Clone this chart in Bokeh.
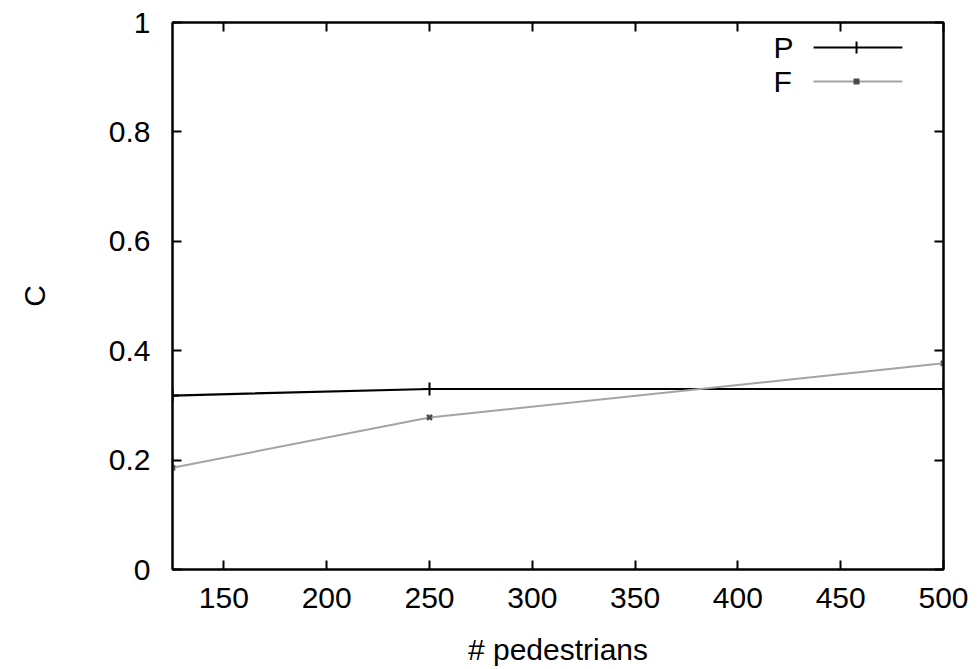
from bokeh.plotting import figure
from bokeh.models import (Range1d, LinearAxis, FixedTicker, Label, BoxAnnotation,
                          CustomLabelingPolicy)
from bokeh.embed import file_html
from bokeh.resources import INLINE

# data
pedestrians = [125, 250, 500]
p_values = [0.318, 0.330, 0.330]
f_values = [0.186, 0.278, 0.377]
x_ticks = [150, 200, 250, 300, 350, 400, 450, 500]
y_ticks = [0, 0.2, 0.4, 0.6, 0.8, 1]
y_tick_labels = {0: "0", 0.2: "0.2", 0.4: "0.4", 0.6: "0.6", 0.8: "0.8", 1: "1"}
series_names = ["P", "F"]
series_colors = ["black", "#a4a4a4"]
marker_colors = ["black", "#4a4a4a"]

FONT = "Liberation Sans"

p = figure(width=977, height=669, output_backend="svg", toolbar_location=None,
           x_range=Range1d(125, 500), y_range=Range1d(0, 1),
           min_border_left=172, min_border_right=34, min_border_top=22, min_border_bottom=100)

p.xgrid.visible = False
p.ygrid.visible = False
p.outline_line_color = "black"
p.outline_line_width = 2
p.background_fill_color = "white"
p.border_fill_color = "white"

hide_all = CustomLabelingPolicy(code="""
    const all = [...indices]
    for (const i of all) indices.unset(i)
    return indices
""")

def style_axis(ax, labels=True):
    ax.axis_line_color = "black"
    ax.axis_line_width = 2
    ax.major_tick_in = 9
    ax.major_tick_out = 0
    ax.major_tick_line_width = 2
    ax.major_tick_line_color = "black"
    ax.minor_tick_line_color = None
    ax.major_label_text_font = FONT
    ax.major_label_text_color = "black"
    if labels:
        ax.major_label_text_font_size = "30px"
    else:
        ax.major_label_text_font_size = "8px"
        ax.major_label_standoff = 0
        ax.major_label_policy = hide_all

xa = p.xaxis[0]
ya = p.yaxis[0]
xa.ticker = FixedTicker(ticks=x_ticks)
ya.ticker = FixedTicker(ticks=y_ticks)
ya.major_label_overrides = y_tick_labels
style_axis(xa)
style_axis(ya)
xa.major_label_standoff = 18
ya.major_label_standoff = 22
xa.axis_label = "# pedestrians"
ya.axis_label = "C"
for ax in (xa, ya):
    ax.axis_label_text_font = FONT
    ax.axis_label_text_font_size = "30px"
    ax.axis_label_text_font_style = "normal"
    ax.axis_label_text_color = "black"
xa.axis_label_standoff = 22
ya.axis_label_standoff = 55

top_ax = LinearAxis(ticker=FixedTicker(ticks=x_ticks))
right_ax = LinearAxis(ticker=FixedTicker(ticks=y_ticks))
style_axis(top_ax, labels=False)
style_axis(right_ax, labels=False)
p.add_layout(top_ax, "above")
p.add_layout(right_ax, "right")

# series
p.line(pedestrians, p_values, line_color=series_colors[0], line_width=2.2)
p.scatter(pedestrians, p_values, marker="cross", size=13, line_color=marker_colors[0], line_width=2)
p.line(pedestrians, f_values, line_color=series_colors[1], line_width=2)
p.scatter(pedestrians, f_values, marker="x", size=7, line_color=marker_colors[1], line_width=2.5)

# key (gnuplot style: text on the left, sample on the right), placed in the upper right
key_text_x = 417.3           # left edge of the key texts
key_line_x = (436.8, 480.0)  # sample line extent
key_mark_x = 457.7           # sample marker position
key_rows_y = [0.9543, 0.8921]
px_y = 1.0 / 547             # one pixel in y data units
px_x = 375.0 / 771           # one pixel in x data units
for i, name in enumerate(series_names):
    yy = key_rows_y[i]
    p.add_layout(Label(x=key_text_x, y=yy, text=name, text_font=FONT, text_font_size="30px",
                       text_color="black", text_baseline="middle", text_align="left"))
    p.add_layout(BoxAnnotation(left=key_line_x[0], right=key_line_x[1],
                               bottom=yy - px_y, top=yy + px_y,
                               fill_color=series_colors[i], fill_alpha=1, line_color=None))
    if i == 0:
        p.add_layout(BoxAnnotation(left=key_mark_x - px_x, right=key_mark_x + px_x,
                                   bottom=yy - 6 * px_y, top=yy + 6 * px_y,
                                   fill_color=marker_colors[i], fill_alpha=1, line_color=None))
    else:
        p.add_layout(BoxAnnotation(left=key_mark_x - 3 * px_x, right=key_mark_x + 3 * px_x,
                                   bottom=yy - 3 * px_y, top=yy + 3 * px_y,
                                   fill_color=marker_colors[i], fill_alpha=1, line_color=None))

open("out.html", "w").write(file_html(p, INLINE))
